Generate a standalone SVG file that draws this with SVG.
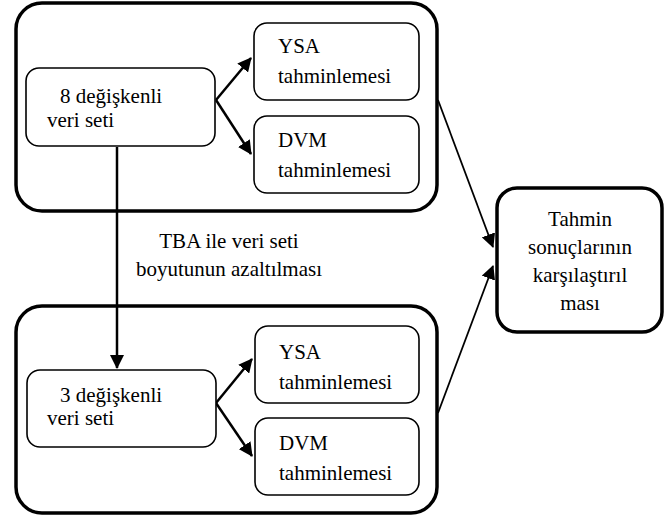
<svg xmlns="http://www.w3.org/2000/svg" width="670" height="517" viewBox="0 0 670 517">
<style>
.outer{fill:none;stroke:#000;stroke-width:3.5}
.box{fill:#fff;stroke:#000;stroke-width:1.6}
.res{fill:#fff;stroke:#000;stroke-width:3.5}
.t{font-family:'Liberation Serif','Times New Roman',serif;font-size:21px;fill:#000}
.c{text-anchor:middle}
.ln{stroke:#000;stroke-width:2.5;fill:none}
.ln2{stroke:#000;stroke-width:1.8;fill:none}
</style>
<defs>
<marker id="ahL" markerWidth="14" markerHeight="14" refX="13" refY="7" orient="auto" markerUnits="userSpaceOnUse" viewBox="0 0 14 14">
<path d="M0,0 L14,7 L0,14 Z" fill="#000"/>
</marker>
</defs>
<g id="top-group"><rect class="outer" x="16" y="3" width="421" height="208" rx="26"/></g>
<g id="bottom-group"><rect class="outer" x="16" y="306" width="421" height="207" rx="26"/></g>
<g id="connectors">
<line class="ln" x1="216" y1="100" x2="251" y2="58" marker-end="url(#ahL)"/>
<line class="ln" x1="216" y1="100" x2="251" y2="154" marker-end="url(#ahL)"/>
<line class="ln" x1="117" y1="147" x2="117" y2="368" marker-end="url(#ahL)"/>
<line class="ln" x1="216" y1="403" x2="252" y2="359" marker-end="url(#ahL)"/>
<line class="ln" x1="216" y1="403" x2="252" y2="456" marker-end="url(#ahL)"/>
<line class="ln2" x1="438" y1="100" x2="493" y2="247" marker-end="url(#ahL)"/>
<line class="ln2" x1="438" y1="413" x2="493" y2="266" marker-end="url(#ahL)"/>
</g>
<g id="n8"><rect class="box" x="26" y="68" width="189" height="78" rx="13"/>
<text class="t" x="60" y="103">8 değişkenli</text><text class="t" x="47" y="127">veri seti</text></g>
<g id="ysa1"><rect class="box" x="254" y="23" width="165" height="77" rx="13"/>
<text class="t" x="278" y="53">YSA</text><text class="t" x="278" y="83">tahminlemesi</text></g>
<g id="dvm1"><rect class="box" x="254" y="116" width="165" height="77" rx="13"/>
<text class="t" x="278" y="147">DVM</text><text class="t" x="278" y="177">tahminlemesi</text></g>
<g id="tba-label"><text class="t c" x="229" y="248">TBA ile veri seti</text><text class="t c" x="229" y="276">boyutunun azaltılması</text></g>
<g id="n3"><rect class="box" x="27" y="370" width="189" height="77" rx="13"/>
<text class="t" x="60" y="402">3 değişkenli</text><text class="t" x="47" y="425">veri seti</text></g>
<g id="ysa2"><rect class="box" x="255" y="326" width="164" height="77" rx="13"/>
<text class="t" x="279" y="359">YSA</text><text class="t" x="279" y="389">tahminlemesi</text></g>
<g id="dvm2"><rect class="box" x="255" y="418" width="164" height="77" rx="13"/>
<text class="t" x="279" y="450">DVM</text><text class="t" x="279" y="480">tahminlemesi</text></g>
<g id="result"><rect class="res" x="497" y="188" width="165" height="144" rx="20"/>
<text class="t c" x="580" y="226">Tahmin</text><text class="t c" x="580" y="254">sonuçlarının</text><text class="t c" x="580" y="282">karşılaştırıl</text><text class="t c" x="580" y="310">ması</text></g>
</svg>
